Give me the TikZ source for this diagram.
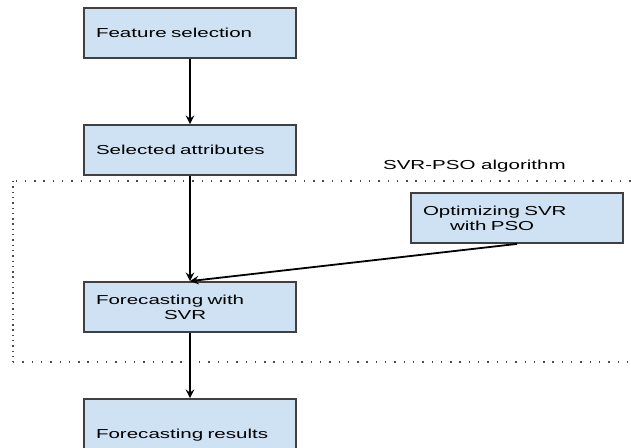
\documentclass[tikz,border=0pt]{standalone}
\usepackage{fontspec}
\setmainfont{Liberation Sans}[FakeStretch=1.58]
\usetikzlibrary{positioning,shapes,arrows}
\definecolor{svrblue}{HTML}{CFE2F3}

\begin{document}
\begin{tikzpicture}[x=0.5pt, y=-0.5pt, >=stealth,
    stage/.style={draw=black!75, line width=0.9pt, rectangle, fill=svrblue,
        text width=94pt, inner xsep=6pt, minimum height=25pt, align=left,
        font=\fontsize{6.5}{7.5}\selectfont},
    flow/.style={->, line width=0.9pt},
    hdots/.style={black!70, line width=0.7pt, dash pattern=on 0.7pt off 3.95pt},
    vdots/.style={black!70, line width=0.7pt, dash pattern=on 0.7pt off 1.95pt}]
            \clip (0,0) rectangle (631,447);

            % SVR-PSO frame
            \coordinate (tl) at (13,181);
            \coordinate (bl) at (13,362);
            \draw[hdots] (640,181) -- (tl);
            \draw[vdots] (tl) -- (bl);
            \draw[hdots] (bl) -- (640,362);
            \node[anchor=west, font=\fontsize{6.5}{7.5}\selectfont] (grp) at (376,166) {SVR-PSO algorithm};

            \node[stage] (feat) at (190,33) {Feature selection};
            \node[stage, below of=feat, node distance=58.5pt] (sel) {Selected attributes};
            \node[stage, below of=sel, node distance=78.5pt] (fcst) {Forecasting with\\\hspace*{34pt}SVR};
            \node[stage, below of=fcst, node distance=64pt, minimum height=36pt] (res) {Forecasting results};
            \node[stage] (opt) at (517,218) {Optimizing SVR\\\hspace*{13.5pt}with PSO};

            \draw[flow] (feat) -- (sel);
            \draw[flow] (sel) -- (fcst);
            \draw[flow] (opt.south) -- (fcst.north);
            \draw[flow] (fcst) -- (res);
        \end{tikzpicture}
\end{document}
